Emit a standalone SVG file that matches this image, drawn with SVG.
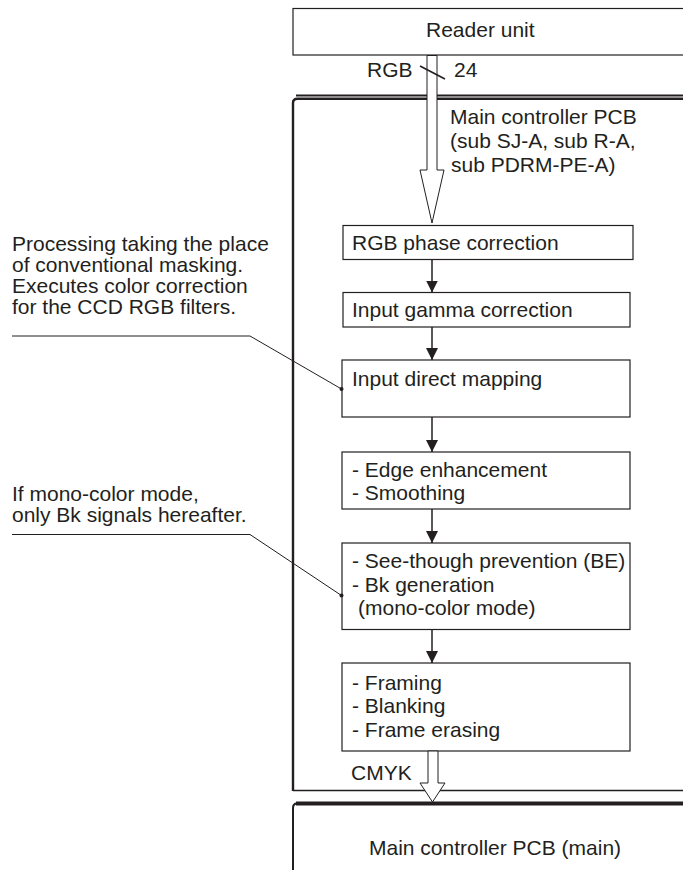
<svg xmlns="http://www.w3.org/2000/svg" width="683" height="870" viewBox="0 0 683 870">
<style>
text{font-family:"Liberation Sans",Arial,sans-serif;font-size:21px;fill:#231f20}
.box{fill:#fff;stroke:#231f20;stroke-width:1.2}
.ln{fill:none;stroke:#231f20;stroke-width:1.5}
.thin{fill:none;stroke:#231f20;stroke-width:1}
.blk{fill:#fff;stroke:#231f20;stroke-width:1}
</style>
<defs>
<marker id="ah" markerUnits="userSpaceOnUse" markerWidth="13" markerHeight="12" refX="12" refY="6" orient="auto">
<path d="M0,0 L12,6 L0,12 z" fill="#231f20"/>
</marker>
</defs>
<rect width="683" height="870" fill="#fff"/>

<g id="reader">
<rect class="box" x="293" y="8.5" width="420" height="46.5" stroke-width="1.5"/>
<text x="426" y="37">Reader unit</text>
</g>

<g id="pcb-sub">
<line x1="296" y1="95.5" x2="683" y2="95.5" stroke="#231f20" stroke-width="2.2"/>
<path d="M293,791 V103 Q293,98.7 297.5,98.7 H683" fill="none" stroke="#231f20" stroke-width="2.4"/>
<line x1="293" y1="790.5" x2="683" y2="790.5" stroke="#231f20" stroke-width="1.6"/>
<text x="450" y="124">Main controller PCB<tspan x="450" y="148">(sub SJ-A, sub R-A,</tspan><tspan x="451" y="172">sub PDRM-PE-A)</tspan></text>
</g>

<g id="pcb-main">
<line x1="296" y1="803.5" x2="683" y2="803.5" stroke="#231f20" stroke-width="4"/>
<path d="M293,870 V808 Q293,803.5 297,803.5" fill="none" stroke="#231f20" stroke-width="2"/>
<text x="369" y="855">Main controller PCB (main)</text>
</g>

<g id="n1">
<rect class="box" x="343" y="225.5" width="290" height="34"/>
<text x="352" y="250">RGB phase correction</text>
</g>
<g id="n2">
<rect class="box" x="343" y="292.5" width="287" height="34.5"/>
<text x="352" y="317">Input gamma correction</text>
</g>
<g id="n3">
<rect class="box" x="342" y="360" width="288" height="57"/>
<text x="352" y="386">Input direct mapping</text>
</g>
<g id="n4">
<rect class="box" x="342" y="452" width="288" height="57"/>
<text x="352" y="477">- Edge enhancement<tspan x="352" y="500">- Smoothing</tspan></text>
</g>
<g id="n5">
<rect class="box" x="342" y="543" width="288" height="86.5"/>
<text x="352" y="568">- See-though prevention (BE)<tspan x="352" y="591.5">- Bk generation</tspan><tspan x="358" y="615">(mono-color mode)</tspan></text>
</g>
<g id="n6">
<rect class="box" x="342" y="663" width="288" height="88"/>
<text x="352" y="690">- Framing<tspan x="352" y="713">- Blanking</tspan><tspan x="352" y="737">- Frame erasing</tspan></text>
</g>

<g id="note1">
<text x="12" y="251">Processing taking the place<tspan x="12" y="272">of conventional masking.</tspan><tspan x="12" y="293">Executes color correction</tspan><tspan x="12" y="314">for the CCD RGB filters.</tspan></text>
</g>
<g id="note2">
<text x="12" y="501">If mono-color mode,<tspan x="12" y="522">only Bk signals hereafter.</tspan></text>
</g>

<g id="connectors">
<polygon class="blk" points="427,55.5 437,55.5 437,170 444,170 432,223 420,170 427,170"/>
<line x1="420" y1="66" x2="445" y2="79" stroke="#231f20" stroke-width="1.6"/>
<text x="367" y="77">RGB</text>
<text x="454" y="77">24</text>
<line class="ln" x1="432" y1="259.5" x2="432" y2="292.5" marker-end="url(#ah)"/>
<line class="ln" x1="432" y1="327" x2="432" y2="360" marker-end="url(#ah)"/>
<line class="ln" x1="432" y1="417" x2="432" y2="452" marker-end="url(#ah)"/>
<line class="ln" x1="432" y1="509" x2="432" y2="543" marker-end="url(#ah)"/>
<line class="ln" x1="432" y1="629.5" x2="432" y2="663" marker-end="url(#ah)"/>
<polygon class="blk" points="428,751 438,751 438,783 445,783 432.5,802 420,783 428,783"/>
<text x="351" y="780">CMYK</text>
<polyline class="thin" points="12,336 250,336 341.5,389"/>
<circle cx="341.5" cy="389" r="2" fill="#231f20"/>
<polyline class="thin" points="12,534.5 250,534.5 341.5,595.5"/>
<circle cx="341.5" cy="595.5" r="2" fill="#231f20"/>
</g>
</svg>
